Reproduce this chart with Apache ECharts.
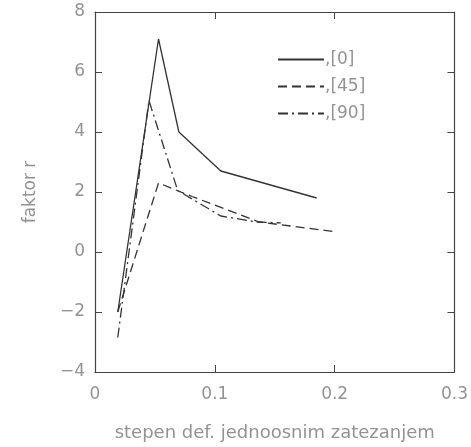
<!DOCTYPE html>
<html>
<head>
<meta charset="utf-8">
<script src="https://cdn.jsdelivr.net/npm/echarts@6/dist/echarts.min.js"></script>
<style>
  html, body { margin: 0; padding: 0; background: #fff; }
  #chart { width: 471px; height: 447px; }
</style>
</head>
<body>
<div id="chart"></div>
<script>
const seriesNames = [',[0]', ',[45]', ',[90]']
const deg0 = [[0.019, -2.0], [0.053, 7.1], [0.070, 4.0], [0.105, 2.7], [0.185, 1.8]]
const deg45 = [[0.019, -2.0], [0.053, 2.3], [0.081, 1.85], [0.137, 1.0], [0.200, 0.68]]
const deg90 = [[0.019, -2.85], [0.045, 5.05], [0.069, 2.05], [0.105, 1.2], [0.135, 1.0], [0.155, 0.97]]
const xTicks = [0, 0.1, 0.2, 0.3]
const yTicks = [-4, -2, 0, 2, 4, 6, 8]

const lineColor = '#333'
const textColor = '#939393'
const font = 'DejaVu Sans'

const dashes = ['solid', [9, 5], [10, 4, 2, 4]]
const datasets = [deg0, deg45, deg90]

const chart = echarts.init(document.getElementById('chart'), null, { renderer: 'canvas' })

const baseAxis = {
  axisLine: { show: true, onZero: false, lineStyle: { color: '#444', width: 1.2 } },
  axisTick: { show: true, inside: true, length: 7, lineStyle: { color: '#444' } },
  splitLine: { show: false },
}

chart.setOption({
  backgroundColor: '#fff',
  animation: false,
  grid: { left: 95, right: 14, top: 12, bottom: 75 },
  legend: {
    left: 272,
    top: 46,
    orient: 'vertical',
    itemWidth: 46,
    itemHeight: 14,
    itemGap: 10,
    data: seriesNames,
    itemStyle: { opacity: 0 },
    textStyle: { color: textColor, fontSize: 17, fontFamily: font, padding: [0, 0, 0, -4] },
  },
  xAxis: [{
    ...baseAxis,
    type: 'value',
    min: xTicks[0],
    max: xTicks[xTicks.length - 1],
    interval: 0.1,
    name: 'stepen def. jednoosnim zatezanjem',
    nameLocation: 'middle',
    nameGap: 52,
    nameTextStyle: { color: textColor, fontSize: 18, fontFamily: font },
    axisLabel: { color: textColor, fontSize: 17, fontFamily: font, margin: 14 },
  }, {
    ...baseAxis,
    type: 'value',
    position: 'top',
    min: xTicks[0],
    max: xTicks[xTicks.length - 1],
    interval: 0.1,
    axisLabel: { show: false },
  }],
  yAxis: [{
    ...baseAxis,
    type: 'value',
    min: yTicks[0],
    max: yTicks[yTicks.length - 1],
    interval: 2,
    name: 'faktor r',
    nameLocation: 'middle',
    nameGap: 56,
    nameTextStyle: { color: textColor, fontSize: 17, fontFamily: font },
    axisLabel: {
      color: textColor, fontSize: 17, fontFamily: font, margin: 10,
      formatter: (v) => (v < 0 ? '\u2212' + Math.abs(v) : String(v)),
    },
  }, {
    ...baseAxis,
    type: 'value',
    position: 'right',
    min: yTicks[0],
    max: yTicks[yTicks.length - 1],
    interval: 2,
    axisLabel: { show: false },
  }],
  series: datasets.map((d, i) => ({
    name: seriesNames[i],
    type: 'line',
    data: d,
    symbol: 'none',
    showSymbol: false,
    lineStyle: { color: lineColor, width: 1.3, type: dashes[i] },
    itemStyle: { color: lineColor },
  })),
})
</script>
</body>
</html>
